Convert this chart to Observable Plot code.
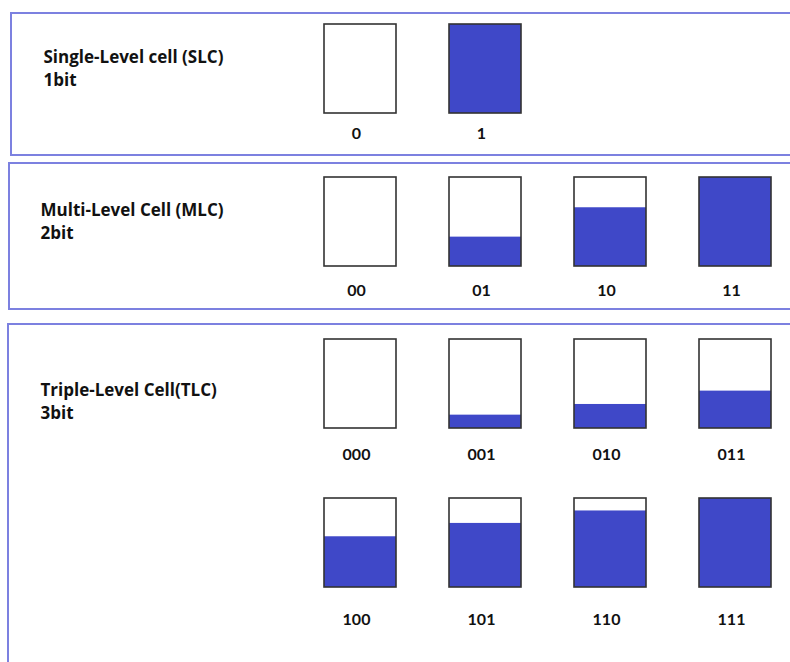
<!DOCTYPE html>
<html><head><meta charset="utf-8">
<script src="https://cdn.jsdelivr.net/npm/d3@7"></script>
<script src="https://cdn.jsdelivr.net/npm/@observablehq/plot@0.6"></script>
<style>html,body{margin:0;padding:0;background:#fff;overflow:hidden}</style>
</head><body><div id="chart"></div>
<script>
// ---- data ----
const cellTypes = ["Single-Level cell (SLC)", "Multi-Level Cell (MLC)", "Triple-Level Cell(TLC)"];
const bitLabels = ["1bit", "2bit", "3bit"];
const slcCodes = ["0", "1"];
const slcLevels = [0, 1];
const mlcCodes = ["00", "01", "10", "11"];
const mlcLevels = [0, 0.33, 0.66, 1];
const tlcCodes = ["000", "001", "010", "011", "100", "101", "110", "111"];
const tlcLevels = [0, 0.15, 0.27, 0.42, 0.57, 0.72, 0.86, 1];

// ---- layout ----
const W = 790, H = 662;
const panelLeft = [11, 9, 8], panelTop = [13, 163, 324], panelBottom = [155, 309, 720];
const titleX = [43, 40, 40], titleY = [57, 210, 390], bitY = [80, 233, 413];
const rowTop = [24, 177, 339, 498], labelY = [133, 290, 454, 619];
const colX0 = 324, colStep = 125, boxW = 72, boxH = 89, labelShift = -4;
const fillColor = "#3f48c8", borderColor = "#7c81e0", boxStroke = "#333";

const groups = [[slcCodes, slcLevels], [mlcCodes, mlcLevels], [tlcCodes, tlcLevels]];
const panels = cellTypes.map((t, p) => ({title: t, bits: bitLabels[p], p}));
const cells = [];
groups.forEach(([codes, levels], p) => {
  codes.forEach((code, i) => {
    const row = p === 2 ? 2 + Math.floor(i / 4) : p;
    const col = i % 4;
    cells.push({code, level: levels[i], row, col});
  });
});
const bx1 = d => colX0 + d.col * colStep;
const bx2 = d => colX0 + d.col * colStep + boxW;
const by1 = d => rowTop[d.row];
const by2 = d => rowTop[d.row] + boxH;

const chart = Plot.plot({
  width: W, height: H, margin: 0,
  x: {type: "linear", domain: [0, W], range: [0, W], axis: null},
  y: {type: "linear", domain: [0, H], range: [0, H], axis: null},
  style: {fontFamily: "'Open Sans', sans-serif", background: "white", overflow: "hidden"},
  marks: [
    Plot.rect(panels, {x1: d => panelLeft[d.p], x2: W + 20, y1: d => panelTop[d.p], y2: d => panelBottom[d.p],
      fill: "none", stroke: borderColor, strokeWidth: 2}),
    Plot.rect(cells, {x1: bx1, x2: bx2, y1: by1, y2: by2, fill: "white"}),
    Plot.rect(cells.filter(d => d.level > 0), {x1: bx1, x2: bx2, y1: d => by2(d) - d.level * boxH, y2: by2, fill: fillColor}),
    Plot.rect(cells, {x1: bx1, x2: bx2, y1: by1, y2: by2, fill: "none", stroke: boxStroke, strokeWidth: 1.6}),
    Plot.text(cells, {x: d => bx1(d) + boxW / 2 + labelShift, y: d => labelY[d.row], text: "code",
      fontFamily: "Lato, sans-serif", fontWeight: "bold", fontSize: 16, fill: "#111"}),
    Plot.text(panels, {x: d => titleX[d.p], y: d => titleY[d.p], text: "title", textAnchor: "start",
      fontWeight: "bold", fontSize: 17, fill: "#111"}),
    Plot.text(panels, {x: d => titleX[d.p], y: d => bitY[d.p], text: "bits", textAnchor: "start",
      fontWeight: "bold", fontSize: 17, fill: "#111"})
  ]
});
document.getElementById("chart").appendChild(chart);
</script>
</body></html>
